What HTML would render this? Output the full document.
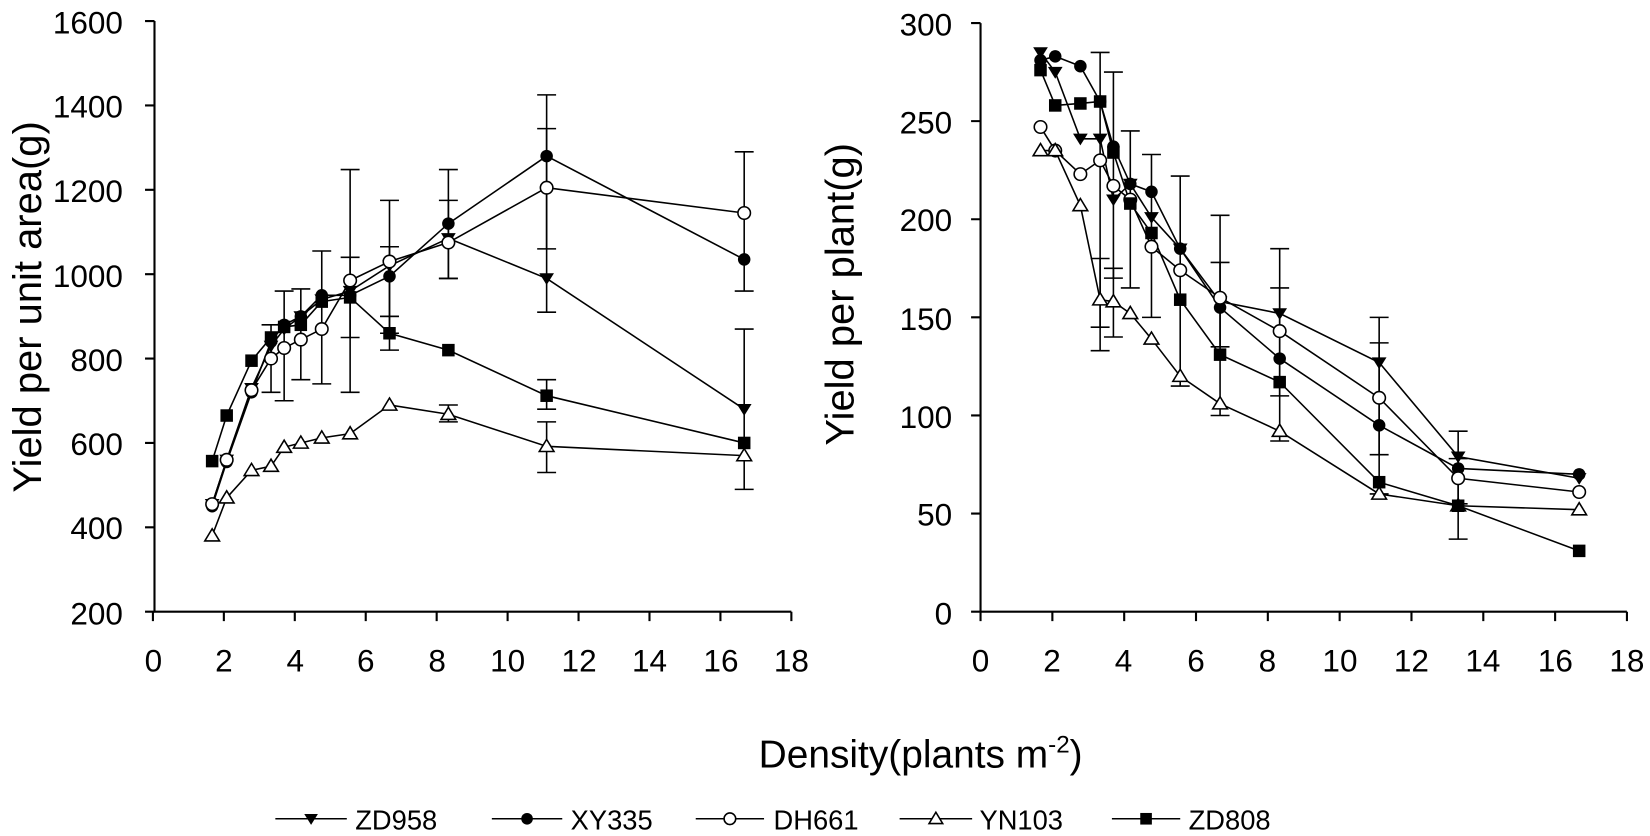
<!DOCTYPE html>
<html><head><meta charset="utf-8"><style>html,body{margin:0;padding:0;background:#fff}svg{display:block}</style></head>
<body>
<svg id="s" width="1650" height="836" viewBox="0 0 1570 795.4" preserveAspectRatio="none" xmlns="http://www.w3.org/2000/svg" font-family="Liberation Sans, Arial, sans-serif">
<g stroke="#000" stroke-width="2" fill="none">
<path d="M147 20 V582 H753"/>
<path d="M933 22 V582 H1548"/>
<path id="ticks" d=""/>
</g>
<g font-size="30" text-anchor="end" fill="#000">
<text x="117" y="32">1600</text><text x="117" y="112">1400</text><text x="117" y="192">1200</text><text x="117" y="273">1000</text><text x="117" y="353">800</text><text x="117" y="433">600</text><text x="117" y="513">400</text><text x="117" y="594">200</text>
<text x="906" y="34">300</text><text x="906" y="127">250</text><text x="906" y="220">200</text><text x="906" y="314">150</text><text x="906" y="407">100</text><text x="906" y="500">50</text><text x="906" y="594">0</text>
</g>
<g font-size="30" text-anchor="middle" fill="#000">
<text x="146" y="639">0</text><text x="213" y="639">2</text><text x="281" y="639">4</text><text x="348" y="639">6</text><text x="416" y="639">8</text><text x="483" y="639">10</text><text x="551" y="639">12</text><text x="618" y="639">14</text><text x="686" y="639">16</text><text x="753" y="639">18</text>
<text x="933" y="639">0</text><text x="1001" y="639">2</text><text x="1069" y="639">4</text><text x="1138" y="639">6</text><text x="1206" y="639">8</text><text x="1275" y="639">10</text><text x="1343" y="639">12</text><text x="1411" y="639">14</text><text x="1480" y="639">16</text><text x="1548" y="639">18</text>
</g>
<text font-size="38" transform="translate(39 292) rotate(-90)" text-anchor="middle">Yield per unit area(g)</text>
<text font-size="38" transform="translate(812 280) rotate(-90)" text-anchor="middle">Yield per plant(g)</text>
<text font-size="37" x="876" y="730" text-anchor="middle">Density(plants m<tspan dy="-14" font-size="23">-2</tspan><tspan dy="14">)</tspan></text>
<g id="g"></g>
<g font-size="26" fill="#000">
<text x="338" y="789">ZD958</text><text x="543" y="789">XY335</text><text x="736" y="789">DH661</text><text x="932" y="789">YN103</text><text x="1131" y="789">ZD808</text>
</g>
</svg>
<script>
const g=document.getElementById('g');let h='';
const L=x=>145.5+33.75*x, LY=v=>582-(v-200)*0.4014;
const R=x=>933+34.17*x, RY=v=>582-v*1.867;
let t='';
for(let v=200;v<=1600;v+=200)t+=`M138 ${LY(v)}H147`;
for(let v=0;v<=300;v+=50)t+=`M924 ${RY(v)}H933`;
for(let x=0;x<=18;x+=2){t+=`M${L(x)} 582V591M${R(x)} 582V591`;}
document.getElementById('ticks').setAttribute('d',t);
function mk(t,x,y,s){s=s||7;
 if(t=='tri')return `<path d="M${x-s} ${y-s*0.7}H${x+s}L${x} ${y+s*0.9}Z" fill="#000"/>`;
 if(t=='dot')return `<circle cx="${x}" cy="${y}" r="${s*0.85}" fill="#000"/>`;
 if(t=='ring')return `<circle cx="${x}" cy="${y}" r="${s*0.85}" fill="#fff" stroke="#000" stroke-width="1.5"/>`;
 if(t=='utri')return `<path d="M${x-s} ${y+s*0.7}H${x+s}L${x} ${y-s*0.95}Z" fill="#fff" stroke="#000" stroke-width="1.5"/>`;
 return `<rect x="${x-s*0.85}" y="${y-s*0.85}" width="${s*1.7}" height="${s*1.7}" fill="#000"/>`;}
function eb(x,y1,y2){return `<path d="M${x} ${y1}V${y2}M${x-9} ${y1}H${x+9}M${x-9} ${y2}H${x+9}" stroke="#000" stroke-width="1.5"/>`;}
const xl=[1.67,2.08,2.78,3.33,3.7,4.17,4.76,5.56,6.67,8.33,11.1,16.67];
const xr=[1.67,2.08,2.78,3.33,3.7,4.17,4.76,5.56,6.67,8.33,11.1,13.3,16.67];
const left=[
['tri',[455,560,730,830,870,900,940,960,1020,1085,990,680]],
['dot',[450,555,720,840,880,900,950,950,995,1120,1280,1035]],
['ring',[455,560,725,800,825,845,870,985,1030,1075,1205,1145]],
['utri',[380,470,535,545,590,600,612,622,690,668,592,570]],
['sq',[557,665,795,850,875,880,935,945,860,820,712,600]]];
const right=[
['tri',[285,275,241,241,210,218,201,185,158,152,127,79,68]],
['dot',[281,283,278,260,237,218,214,185,155,129,95,73,70]],
['ring',[247,235,223,230,217,210,186,174,160,143,109,68,61]],
['utri',[235,235,207,159,158,152,139,120,106,92,60,54,52]],
['sq',[276,258,259,260,234,208,193,159,131,117,66,54,31]]];
[[3.33,720,880],[3.7,700,960],[4.17,750,965],[4.76,740,1055],[5.56,720,1248],[5.56,850,1040],[6.67,860,1175],[6.67,900,1065],[8.33,990,1248],[8.33,990,1175],[11.1,910,1425],[11.1,1060,1345],[16.67,490,870],[16.67,960,1290],[8.33,650,690],[11.1,530,650],[6.67,820,900],[11.1,680,750]]
 .forEach(e=>h+=eb(L(e[0]),LY(e[1]),LY(e[2])));
[[3.33,133,285],[3.7,170,275],[4.17,165,245],[4.76,150,233],[5.56,115,222],[6.67,100,202],[6.67,135,178],[8.33,87,185],[8.33,110,165],[11.1,60,150],[11.1,80,137],[13.3,37,92],[13.3,55,78],[3.33,145,180],[3.7,140,175]]
 .forEach(e=>h+=eb(R(e[0]),RY(e[1]),RY(e[2])));
left.forEach(([t,v])=>{h+=`<polyline fill="none" stroke="#000" stroke-width="1.5" points="${v.map((y,i)=>L(xl[i])+','+LY(y)).join(' ')}"/>`;});
left.forEach(([t,v])=>v.forEach((y,i)=>h+=mk(t,L(xl[i]),LY(y))));
right.forEach(([t,v])=>{h+=`<polyline fill="none" stroke="#000" stroke-width="1.5" points="${v.map((y,i)=>R(xr[i])+','+RY(y)).join(' ')}"/>`;});
right.forEach(([t,v])=>v.forEach((y,i)=>h+=mk(t,R(xr[i]),RY(y))));
[['tri',262,330],['dot',468,535],['ring',662,727],['utri',856,925],['sq',1058,1123]].forEach(([t,a,b])=>{
 h+=`<path d="M${a} 779H${b}" stroke="#000" stroke-width="1.5"/>`+mk(t,(a+b)/2,779,6.5);});
g.innerHTML=h;
</script>
</body></html>
